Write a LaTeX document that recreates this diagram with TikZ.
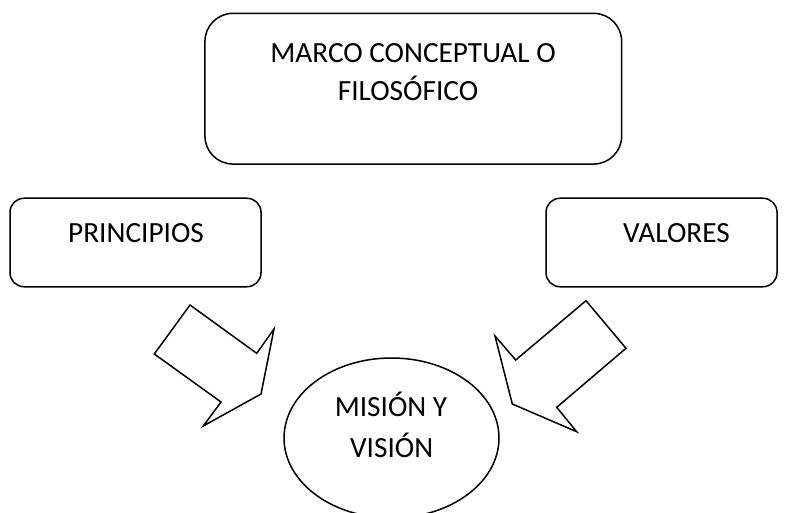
\documentclass[tikz,border=0pt]{standalone}
\usepackage{fontspec}
\setmainfont{Carlito}
\usetikzlibrary{shapes.geometric}
\begin{document}
\begin{tikzpicture}[x=1pt,y=-1pt,
  line width=1.5pt, line join=miter,
  boxshape/.style={draw, rectangle, inner sep=0pt},
  lbl/.style={anchor=base, inner sep=0pt, font=\fontsize{29.3}{35}\selectfont},
  bigarrow/.style={draw, line join=miter}]
\useasboundingbox (0,0) rectangle (787,513);
% boxes
\node[boxshape, rounded corners=28pt, minimum width=416.7pt, minimum height=150.7pt] (marco) at (413.3,88.7) {};
\node[boxshape, rounded corners=14pt, minimum width=251pt, minimum height=88.5pt] (prin) at (135.5,242.5) {};
\node[boxshape, rounded corners=14pt, minimum width=231pt, minimum height=88.5pt] (val) at (661.5,242.5) {};
\node[draw, ellipse, inner sep=0pt, minimum width=215pt, minimum height=160pt] (mis) at (391.5,438) {};
% texts
\node[lbl] (t1) at (413,62.7) {MARCO CONCEPTUAL O};
\node[lbl] (t2) at (408,100.7) {FILOSÓFICO};
\node[lbl] (t3) at (136,242) {PRINCIPIOS};
\node[lbl] (t4) at (676.5,242) {VALORES};
\node[lbl] (t5) at (391,416.7) {MISIÓN Y};
\node[lbl] (t6) at (391.7,457.7) {VISIÓN};
% block arrows
\draw[bigarrow] (190,305) -- (256.7,353.3) -- (274,329) -- (261,394) -- (203.3,426) -- (221,402) -- (154.3,354) -- cycle;
\draw[bigarrow] (586,300.7) -- (626,348.3) -- (556.7,407.3) -- (576.7,431.7) -- (512.3,404) -- (495,336) -- (515.7,360) -- cycle;
\end{tikzpicture}
\end{document}
